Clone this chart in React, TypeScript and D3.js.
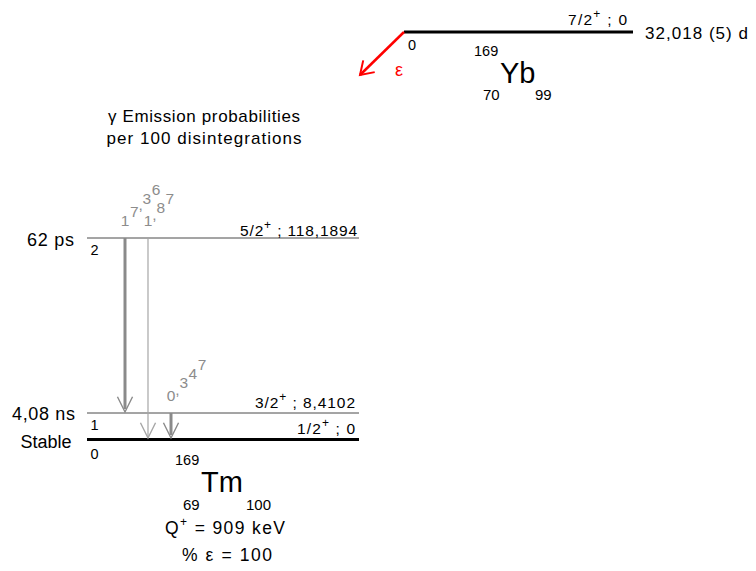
import * as d3 from 'd3';

// levels of 169Tm (index = level number)
const LEVEL_ENERGY = [0, 8.4102, 118.1894];
const LEVEL_ENERGY_LABEL = ['0', '8,4102', '118,1894'];
const LEVEL_SPIN = ['1/2', '3/2', '5/2'];
const LEVEL_PARITY = ['+', '+', '+'];
const LEVEL_HALF_LIFE = ['Stable', '4,08 ns', '62 ps'];

// gamma transitions
const GAMMA_FROM = [2, 2, 1];
const GAMMA_TO = [1, 0, 0];
const GAMMA_PROB = ['17,36', '1,87', '0,347'];
const GAMMA_STRONG = [true, false, true];

// parent
const PARENT_SYMBOL = 'Yb';
const PARENT_AZN = [169, 70, 99];
const PARENT_SPIN = '7/2';
const PARENT_PARITY = '+';
const PARENT_HALF_LIFE = '32,018 (5) d';

// daughter
const DAUGHTER_SYMBOL = 'Tm';
const DAUGHTER_AZN = [169, 69, 100];
const Q_VALUE = '909 keV';
const EC_PERCENT = '100';

const W = 756;
const H = 571;
const FONT = '"Liberation Sans", Arial, Helvetica, sans-serif';
const GRAY = '#8c8c8c';

const yLevel = d3.scaleLinear().domain(LEVEL_ENERGY).range([439.5, 413, 238]);
const xGamma = d3
  .scalePoint<number>()
  .domain(GAMMA_PROB.map((_, i) => i))
  .range([125, 171]);
const LEVEL_X0 = 87;
const LEVEL_X1 = 359;

// half-life labels: right edge, width, baseline offset from the level line
const HL_RIGHT = [71.5, 75, 74];
const HL_WIDTH = [51, 63, 47];
const HL_DY = [8.5, 7, 7.5];

// upright characters laid out along a 45 degree diagonal
function diagonalChars(label: string, x: number, y: number) {
  const step = (c: string) => (c === ',' ? 5 : 13);
  const out: { c: string; x: number; y: number }[] = [];
  let d = 0;
  label.split('').forEach((c, i) => {
    if (i > 0) d += step(label[i - 1]) / 2 + step(c) / 2;
    const k = d / Math.SQRT2;
    out.push({ c, x: x + k, y: y - k });
  });
  return out;
}

function arrowHead(tipX: number, tipY: number, angle: number, len: number, spread: number) {
  // angle: direction from tip back along the shaft
  const a1 = angle - spread;
  const a2 = angle + spread;
  return `M${tipX + len * Math.cos(a1)},${tipY + len * Math.sin(a1)}L${tipX},${tipY}L${tipX + len * Math.cos(a2)},${tipY + len * Math.sin(a2)}`;
}

function SpinLabel({ spin, parity, tail, x, y, width }: { spin: string; parity: string; tail: string; x: number; y: number; width: number }) {
  return (
    <text x={x} y={y} fontSize={15.5} textAnchor="end" textLength={width} lengthAdjust="spacing">
      {spin}
      <tspan fontSize={12} dy={-7}>{parity}</tspan>
      <tspan dy={7}>{` ; ${tail}`}</tspan>
    </text>
  );
}

export default function App() {
  const parentY = 32;
  const parentX0 = 404;
  const parentX1 = 633;

  // electron capture arrow
  const ecTip: [number, number] = [360, 75];
  const ecAngle = Math.atan2(parentY - ecTip[1], parentX0 - ecTip[0]);

  return (
    <div style={{ position: 'absolute', left: 0, top: 0 }}>
      <svg width={W} height={H} style={{ display: 'block', fontFamily: FONT }}>
        <rect width={W} height={H} fill="#fff" />

        {/* parent level */}
        <line x1={parentX0} x2={parentX1} y1={parentY} y2={parentY} stroke="#000" strokeWidth={3} />
        <SpinLabel spin={PARENT_SPIN} parity={PARENT_PARITY} tail="0" x={627} y={25} width={59} />
        <text x={645} y={38.5} fontSize={17} textLength={103} lengthAdjust="spacing">{PARENT_HALF_LIFE}</text>
        <text x={408} y={50} fontSize={14.5}>0</text>
        <text x={474} y={56} fontSize={14.5}>{PARENT_AZN[0]}</text>
        <text x={500} y={83} fontSize={29}>{PARENT_SYMBOL}</text>
        <text x={483} y={100} fontSize={15}>{PARENT_AZN[1]}</text>
        <text x={535} y={100} fontSize={15}>{PARENT_AZN[2]}</text>

        <line x1={parentX0} y1={parentY} x2={ecTip[0]} y2={ecTip[1]} stroke="#f00" strokeWidth={2.5} />
        <path d={arrowHead(ecTip[0], ecTip[1], ecAngle, 15, 0.58)} fill="none" stroke="#f00" strokeWidth={2} />
        <text x={399} y={76} fontSize={18} fill="#f00" textAnchor="middle">ε</text>

        {/* caption */}
        <text x={204} y={121.5} fontSize={17} textAnchor="middle" textLength={192} lengthAdjust="spacing">γ Emission probabilities</text>
        <text x={204} y={143.5} fontSize={17} textAnchor="middle" textLength={195} lengthAdjust="spacing">per 100 disintegrations</text>

        {/* daughter levels */}
        {LEVEL_ENERGY.map((e, i) => {
          const y = yLevel(e);
          const ground = i === 0;
          return (
            <g key={`lv${i}`}>
              <line
                x1={LEVEL_X0}
                x2={LEVEL_X1}
                y1={y}
                y2={y}
                stroke={ground ? '#000' : '#4a4a4a'}
                strokeWidth={ground ? 3 : 1}
              />
              <text x={90.5} y={y + (ground ? 19 : 16.5)} fontSize={14.5}>{i}</text>
              <text
                x={HL_RIGHT[i]}
                y={y + HL_DY[i]}
                fontSize={18}
                textAnchor="end"
                textLength={HL_WIDTH[i]}
                lengthAdjust="spacing"
              >
                {LEVEL_HALF_LIFE[i]}
              </text>
            </g>
          );
        })}
        <SpinLabel spin={LEVEL_SPIN[2]} parity={LEVEL_PARITY[2]} tail={LEVEL_ENERGY_LABEL[2]} x={357} y={yLevel(LEVEL_ENERGY[2]) - 1.8} width={117} />
        <SpinLabel spin={LEVEL_SPIN[1]} parity={LEVEL_PARITY[1]} tail={LEVEL_ENERGY_LABEL[1]} x={355} y={yLevel(LEVEL_ENERGY[1]) - 5.5} width={100} />
        <SpinLabel spin={LEVEL_SPIN[0]} parity={LEVEL_PARITY[0]} tail={LEVEL_ENERGY_LABEL[0]} x={355} y={yLevel(LEVEL_ENERGY[0]) - 5.5} width={58} />

        {/* gamma transitions */}
        {GAMMA_PROB.map((p, i) => {
          const x = xGamma(i)!;
          const yTop = yLevel(LEVEL_ENERGY[GAMMA_FROM[i]]);
          const toGround = GAMMA_TO[i] === 0;
          const yTip = yLevel(LEVEL_ENERGY[GAMMA_TO[i]]) - (toGround ? 1.5 : 1);
          const strong = GAMMA_STRONG[i];
          const col = strong ? '#8a8a8a' : '#a6a6a6';
          return (
            <g key={`g${i}`}>
              <line x1={x} x2={x} y1={yTop} y2={yTip - (strong ? 3 : 0)} stroke={col} strokeWidth={strong ? 3 : 1.2} />
              <path d={arrowHead(x, yTip, -Math.PI / 2, 17, 0.46)} fill="none" stroke={col} strokeWidth={1.4} />
              {diagonalChars(p, x, yTop - 12).map((d, j) => (
                <text key={j} x={d.x} y={d.y} fontSize={15.5} fill={GRAY} textAnchor="middle">{d.c}</text>
              ))}
            </g>
          );
        })}

        {/* daughter nucleus */}
        <text x={175} y={465} fontSize={14.5}>{DAUGHTER_AZN[0]}</text>
        <text x={201} y={491.5} fontSize={29}>{DAUGHTER_SYMBOL}</text>
        <text x={183} y={510} fontSize={15}>{DAUGHTER_AZN[1]}</text>
        <text x={246} y={510} fontSize={15}>{DAUGHTER_AZN[2]}</text>
        <text x={165} y={533.5} fontSize={17.5} textLength={120} lengthAdjust="spacing">
          Q<tspan fontSize={12} dy={-8}>+</tspan>
          <tspan dy={8}>{` = ${Q_VALUE}`}</tspan>
        </text>
        <text x={182} y={560.5} fontSize={17.5} textLength={90} lengthAdjust="spacing">{`% ε  = ${EC_PERCENT}`}</text>
      </svg>
    </div>
  );
}
